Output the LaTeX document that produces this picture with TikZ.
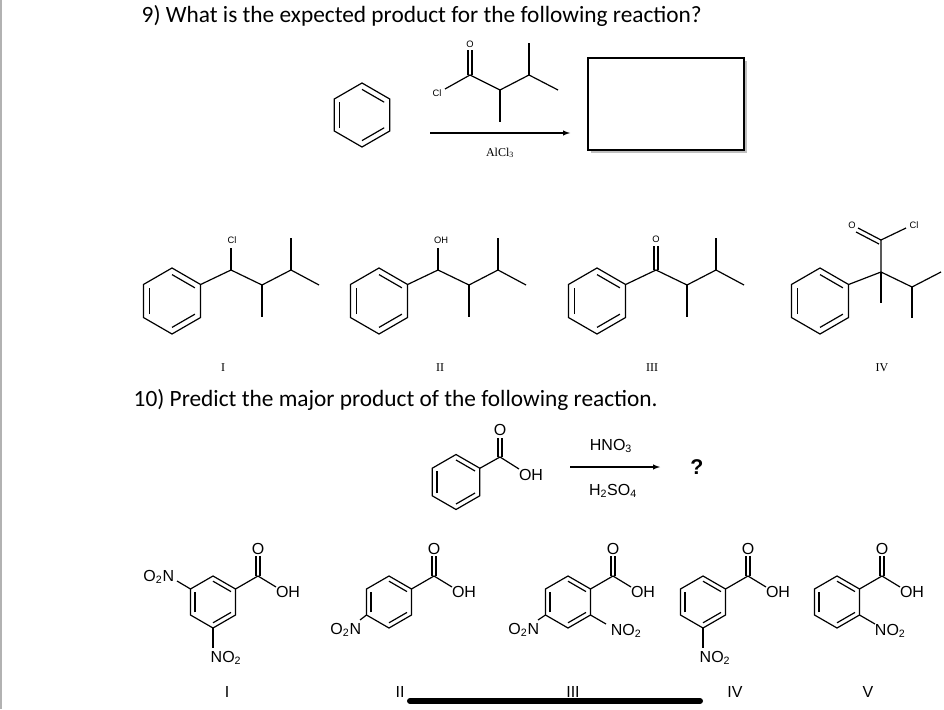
\documentclass[tikz,border=0pt]{standalone}
\usepackage{fontspec}
\setmainfont{Carlito}
\newfontfamily\chem{Liberation Sans}
\newfontfamily\tms{Liberation Serif}
\usetikzlibrary{calc}
\newcommand\sub[1]{\textsubscript{#1}}
\tikzset{bond/.style={line width=0.9pt},
 sm/.style={font=\chem\fontsize{7}{8}\selectfont,inner sep=0.5pt},
 lab/.style={font=\chem\fontsize{12}{14}\selectfont,inner sep=0.5pt},
 rom/.style={font=\tms\fontsize{9}{10}\selectfont},
 ttl/.style={font=\fontsize{17.5}{20}\selectfont,anchor=west}}
\newcommand\benz[3]{%
 \coordinate (bc) at (#1,#2);
 \draw[bond] ($(bc)+(-90:#3)$) -- ($(bc)+(-30:#3)$) -- ($(bc)+(30:#3)$) -- ($(bc)+(90:#3)$) -- ($(bc)+(150:#3)$) -- ($(bc)+(210:#3)$) -- cycle;
 \draw[bond] ($(bc)+(150:{0.8*#3})$) -- ($(bc)+(210:{0.8*#3})$);
 \draw[bond] ($(bc)+(-90:{0.8*#3})$) -- ($(bc)+(-30:{0.8*#3})$);
 \draw[bond] ($(bc)+(30:{0.8*#3})$) -- ($(bc)+(90:{0.8*#3})$);}
\begin{document}
\begin{tikzpicture}[x=0.75pt,y=-0.75pt]
\useasboundingbox (0,0) rectangle (944,709);
\draw[gray!60,line width=1pt] (1,0) -- (1,709);
\node[ttl] (t9) at (137,16) {9) What is the expected product for the following reaction?};
% reaction 9
\benz{362}{115}{32}
\draw[bond] (445,89) -- (470,75) -- (500,90) -- (529,75) -- (558,90);
\draw[bond] (500,90) -- (500,122);
\draw[bond] (529,75) -- (529,43);
\draw[bond] (468,75) -- (468,50); \draw[bond] (472,75) -- (472,50);
\node[sm] (cl0) at (437,93) {Cl};
\node[sm] (o0) at (470,44) {O};
\coordinate (a1) at (430,133); \coordinate (a2) at (570,133);
\draw[line width=0.8pt,-latex] (a1) -- (a2);
\node[font=\tms\fontsize{9}{10}\selectfont] (alcl) at (500,153) {AlCl\sub{3}};
\fill[gray!50] (591,61) rectangle (747,153);
\draw[fill=white,line width=1pt] (588,58) rectangle (744,150);
% products 9
\benz{172}{301}{33}
\draw[bond] (200.6,284.5) -- (231,270) -- (262,285) -- (291,270) -- (319,285);
\draw[bond] (262,285) -- (262,317); \draw[bond] (291,270) -- (291,238);
\draw[bond] (231,270) -- (231,248); \node[sm] (cl1) at (232,240) {Cl};
\benz{379}{301}{33}
\draw[bond] (407.6,284.5) -- (438,270) -- (469,285) -- (498,270) -- (526,285);
\draw[bond] (469,285) -- (469,317); \draw[bond] (498,270) -- (498,238);
\draw[bond] (438,270) -- (438,248); \node[sm] (oh2) at (441,240) {OH};
\benz{597}{301}{33}
\draw[bond] (625.6,284.5) -- (656,270) -- (687,285) -- (716,270) -- (744,285);
\draw[bond] (687,285) -- (687,317); \draw[bond] (716,270) -- (716,238);
\draw[bond] (654,270) -- (654,246); \draw[bond] (658,270) -- (658,246); \node[sm] (o3) at (656,239) {O};
\benz{820}{301}{33}
\draw[bond] (848.6,284.5) -- (881,272) -- (912,287) -- (941,272);
\draw[bond] (881,272) -- (881,303); \draw[bond] (912,287) -- (912,318);
\draw[bond] (881,272) -- (881,240) -- (906,228);
\draw[bond] (881,240) -- (858,228); \draw[bond] (879,244) -- (856,232);
\node[sm] (o4) at (852,225) {O}; \node[sm] (cl4) at (914,225) {Cl};
\node[rom] (r1) at (223,368) {I};
\node[rom] (r2) at (440,368) {II};
\node[rom] (r3) at (652,368) {III};
\node[rom] (r4) at (882,368) {IV};
\node[ttl] (t10) at (129,400) {10) Predict the major product of the following reaction.};
% reaction 10
\benz{456}{482}{27.5}
\draw[bond] (479.8,468.3) -- (500,457) -- (519,469);
\draw[bond] (498,457) -- (498,438); \draw[bond] (502,457) -- (502,438);
\node[lab] (o5) at (500,430) {O}; \node[lab] (oh5) at (531,475) {OH};
\coordinate (b1) at (570,467); \coordinate (b2) at (660,467);
\draw[line width=0.8pt,-latex] (b1) -- (b2);
\node[lab] (hno) at (611,446) {HNO\sub{3}};
\node[lab] (hso) at (613,491) {H\sub{2}SO\sub{4}};
\node[font=\chem\bfseries\fontsize{16}{18}\selectfont] (q) at (697,467) {?};
% answer molecules
\foreach \cx/\nm in {213/A,389/B,568/C,703/D,837/E}{
 \benz{\cx}{602}{26}
 \draw[bond] (\cx+22.5,589) -- (\cx+45,576) -- (\cx+63,587);
 \draw[bond] (\cx+43,576) -- (\cx+43,556); \draw[bond] (\cx+47,576) -- (\cx+47,556);
 \node[lab] (o\nm) at (\cx+45,549) {O};
 \node[lab] (oh\nm) at (\cx+75,592) {OH};
}
% I
\draw[bond] (190.5,589) -- (177,581); \node[lab,anchor=east] (n1a) at (175,577) {O\sub{2}N};
\draw[bond] (213,628) -- (213,648); \node[lab] (n1b) at (226,658) {NO\sub{2}};
% II
\draw[bond] (366.5,615) -- (360,620); \node[lab,anchor=east] (n2) at (362,630) {O\sub{2}N};
% III
\draw[bond] (545.5,615) -- (538,620); \node[lab,anchor=east] (n3a) at (540,630) {O\sub{2}N};
\draw[bond] (590.5,615) -- (606,624); \node[lab,anchor=west] (n3b) at (610,631) {NO\sub{2}};
% IV
\draw[bond] (703,628) -- (703,648); \node[lab] (n4) at (715,658) {NO\sub{2}};
% V
\draw[bond] (859.5,615) -- (875,624); \node[lab,anchor=west] (n5) at (874,631) {NO\sub{2}};
\node[lab] (l1) at (227,692) {I};
\node[lab] (l2) at (400,692) {II};
\node[lab] (l3) at (573,692) {III};
\node[lab] (l4) at (735,692) {IV};
\node[lab] (l5) at (868,692) {V};
\draw[line width=4.5pt,line cap=round] (410,701) -- (700,701);
\end{tikzpicture}
\end{document}
